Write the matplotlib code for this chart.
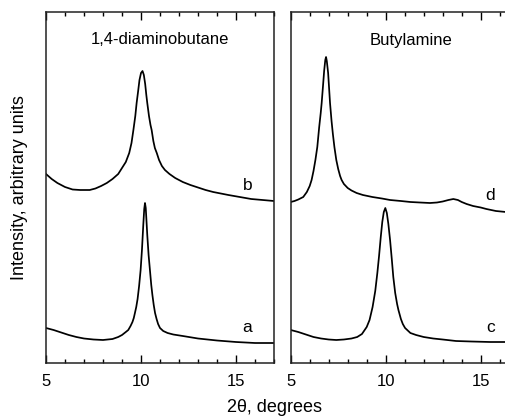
import matplotlib
matplotlib.use("Agg")
import matplotlib.pyplot as plt
from matplotlib.ticker import MultipleLocator

plt.rcParams['font.family'] = ['Liberation Sans', 'DejaVu Sans']

# 1,4-diaminobutane panel
a_x = [5.0, 5.4, 5.8, 6.2, 6.6, 7.0, 7.5, 8.0, 8.5, 8.8, 9.0, 9.2, 9.33, 9.45, 9.55,
       9.62, 9.68, 9.75, 9.82, 9.9, 9.98, 10.05, 10.12, 10.17, 10.21, 10.25, 10.28,
       10.33, 10.4, 10.47, 10.54, 10.6, 10.67, 10.74, 10.82, 10.9, 11.0, 11.17, 11.4,
       11.7, 12.2, 13.0, 14.0, 15.0, 16.0, 17.0]
a_y = [35, 33, 30.5, 28, 26, 24.5, 23.5, 23, 24, 26, 28, 31, 33, 37, 41,
       45, 50, 56, 64, 77, 93, 113, 138, 154, 160, 155, 145,
       128, 108, 93, 78, 68, 58, 50, 44, 39, 35, 32, 30,
       28.5, 27, 24.5, 22.5, 21, 20, 20]

b_x = [5.0, 5.3, 5.6, 6.0, 6.4, 6.8, 7.3, 7.6, 7.9, 8.2, 8.5, 8.8, 9.0, 9.2, 9.38,
       9.5, 9.6, 9.7, 9.77, 9.85, 9.92, 10.0, 10.08, 10.15, 10.22, 10.28, 10.33,
       10.42, 10.5, 10.56, 10.65, 10.73, 10.83, 10.95, 11.1, 11.26, 11.5, 11.8, 12.2,
       12.6, 13.0, 13.4, 13.8, 14.2, 14.6, 15.2, 15.8, 16.4, 17.0]
b_y = [189, 184, 180, 176, 173.5, 173, 173, 174.5, 177, 180, 184, 189, 195, 201, 210,
       220, 233, 247, 260, 272, 283, 290, 292, 288, 279, 268, 260,
       247, 238, 233, 222, 215, 210, 203, 197, 193, 189, 185, 181,
       178, 175.5, 173, 171, 169.5, 168, 166, 164, 163, 162]

# Butylamine panel
c_x = [5.0, 5.4, 5.8, 6.2, 6.6, 7.0, 7.4, 7.8, 8.2, 8.5, 8.75, 9.0, 9.15, 9.31, 9.45,
       9.56, 9.65, 9.74, 9.82, 9.9, 9.98, 10.06, 10.14, 10.23, 10.32, 10.4, 10.5,
       10.6, 10.67, 10.8, 10.9, 11.02, 11.3, 11.6, 12.0, 12.5, 13.0, 13.7, 14.5,
       15.5, 16.3, 17.0]
c_y = [33, 31, 28.5, 26, 24.5, 23.5, 23, 23.5, 24.5, 26, 29, 36, 43, 56, 72,
       90, 107, 126, 141, 151, 155, 150, 139, 123, 104, 86, 70,
       59, 53, 44, 39, 35, 30, 28, 26, 24.5, 23.5, 22, 21.5,
       21, 21, 20]

d_x = [5.0, 5.2, 5.4, 5.66, 5.85, 6.0, 6.1, 6.2, 6.3, 6.4, 6.5, 6.58, 6.63, 6.7,
       6.76, 6.82, 6.86, 6.9, 6.97, 7.02, 7.07, 7.15, 7.22, 7.3, 7.4, 7.5, 7.6,
       7.68, 7.8, 8.0, 8.2, 8.47, 8.8, 9.3, 9.8, 10.23, 10.8, 11.3, 11.8, 12.33,
       12.7, 13.0, 13.3, 13.56, 13.8, 14.0, 14.26, 14.6, 15.0, 15.3, 15.8, 16.33, 17.0]
d_y = [161, 162, 163.5, 166, 171, 177, 183, 192, 203, 216, 236, 250, 260, 277,
       292, 303, 306, 302, 290, 275, 260, 242, 229, 216, 203, 194, 187,
       183, 179, 175, 172.5, 170, 168, 166, 164.5, 163, 162, 161, 160.5, 160,
       160.5, 161.5, 163, 164, 163, 161, 159, 157, 155.5, 154, 152, 151, 150.5]

panels = [
    ("1,4-diaminobutane", 11.0, [(a_x, a_y, "a", 15.6, 35), (b_x, b_y, "b", 15.6, 178)]),
    ("Butylamine", 11.33, [(c_x, c_y, "c", 15.5, 36), (d_x, d_y, "d", 15.5, 168)]),
]

fig = plt.figure(figsize=(5.06, 4.18), dpi=100)
lefts = [46 / 506, 290.7 / 506]
w = 228 / 506
bottom = 55 / 418
h = 351 / 418

for left, (title, tx, curves) in zip(lefts, panels):
    ax = fig.add_axes([left, bottom, w, h])
    for x, y, lab, lx, ly in curves:
        ax.plot(x, y, color="black", lw=1.25)
        ax.text(lx, ly, lab, fontsize=12.5, ha="center", va="center")
    ax.text(tx, 323, title, fontsize=12, ha="center", va="center")
    ax.set_xlim(5, 17)
    ax.set_ylim(0, 351)
    ax.xaxis.set_major_locator(MultipleLocator(5))
    ax.xaxis.set_minor_locator(MultipleLocator(1))
    ax.tick_params(axis="x", which="both", direction="in", top=True, labelsize=12, pad=8)
    ax.tick_params(axis="x", which="major", length=6, width=1)
    ax.tick_params(axis="x", which="minor", length=3, width=1)
    ax.set_yticks([])
    for s in ax.spines.values():
        s.set_linewidth(1.1)
        s.set_color("#222222")

fig.text(275 / 506, 1 - 408 / 418, "2\u03b8, degrees", fontsize=13, ha="center", va="center")
fig.text(20 / 506, bottom + h / 2, "Intensity, arbitrary units", fontsize=13,
         rotation=90, ha="center", va="center")

fig.savefig("out.png", dpi=100)
